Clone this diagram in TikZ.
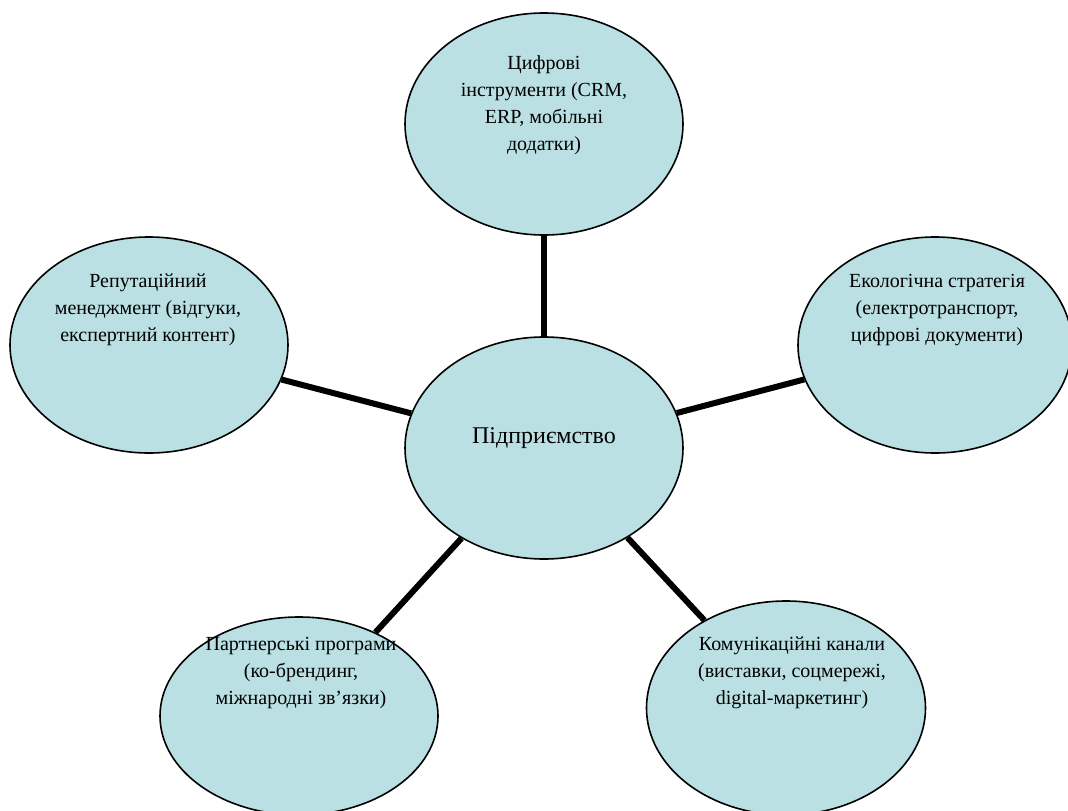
\documentclass[tikz,border=0pt]{standalone}
\usepackage{fontspec}
\setmainfont{Liberation Serif}
\usetikzlibrary{shapes.geometric}
\definecolor{bubble}{RGB}{186,224,227}
\tikzset{
  bub/.style={ellipse, draw=black, line width=1.6pt, fill=bubble, inner sep=0pt},
  lbl/.style={align=center, font=\fontsize{20}{27}\selectfont, inner sep=0pt, text=black},
  conn/.style={line width=6pt, draw=black}
}
\begin{document}
\begin{tikzpicture}[x=1pt,y=-1pt]
\useasboundingbox (0,0) rectangle (1068,811);
\clip (0,0) rectangle (1068,811);
\node[bub, minimum width=278pt, minimum height=222pt] (top) at (544,124) {};
\node[bub, minimum width=278pt, minimum height=216pt] (left) at (149,345) {};
\node[bub, minimum width=274pt, minimum height=216pt] (right) at (935,345) {};
\node[bub, minimum width=278pt, minimum height=222pt] (mid) at (544,448) {};
\node[bub, minimum width=278pt, minimum height=198pt] (bl) at (299,716) {};
\node[bub, minimum width=279pt, minimum height=214pt] (br) at (786,708) {};
\draw[conn] (mid) -- (top);
\draw[conn] (mid) -- (left);
\draw[conn] (mid) -- (right);
\draw[conn] (mid) -- (bl);
\draw[conn] (mid) -- (br);
\node[lbl] (ttop) at (544,105) {Цифрові\\інструменти (CRM,\\ERP, мобільні\\додатки)};
\node[lbl] (tleft) at (148,310) {Репутаційний\\менеджмент (відгуки,\\експертний контент)};
\node[lbl] (tright) at (937,310) {Екологічна стратегія\\(електротранспорт,\\цифрові документи)};
\node[lbl, font=\fontsize{24}{29}\selectfont] (tmid) at (544,438) {Підприємство};
\node[lbl] (tbl) at (301,673) {Партнерські програми\\(ко-брендинг,\\міжнародні зв’язки)};
\node[lbl] (tbr) at (792,673) {Комунікаційні канали\\(виставки, соцмережі,\\digital-маркетинг)};
\end{tikzpicture}
\end{document}
